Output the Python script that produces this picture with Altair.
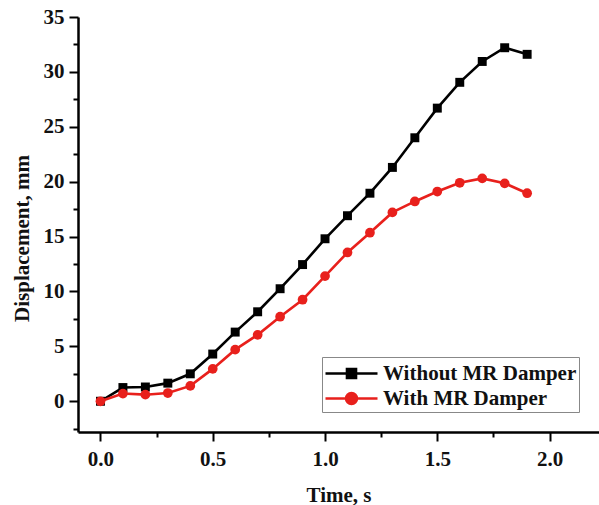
import altair as alt
import pandas as pd

times = [0.0, 0.1, 0.2, 0.3, 0.4, 0.5, 0.6, 0.7, 0.8, 0.9,
         1.0, 1.1, 1.2, 1.3, 1.4, 1.5, 1.6, 1.7, 1.8, 1.9]
without_damper = [0.0, 1.25, 1.3, 1.65, 2.5, 4.3, 6.3, 8.15, 10.25, 12.45,
                  14.8, 16.9, 18.95, 21.3, 24.0, 26.7, 29.05, 30.95, 32.2, 31.6]
with_damper = [0.0, 0.7, 0.6, 0.75, 1.4, 2.95, 4.7, 6.05, 7.7, 9.25,
               11.4, 13.55, 15.35, 17.2, 18.2, 19.1, 19.9, 20.3, 19.85, 18.95]
series_names = ["Without MR Damper", "With MR Damper"]
series_colors = ["#000000", "#e8201c"]
x_ticks = [0.0, 0.25, 0.5, 0.75, 1.0, 1.25, 1.5, 1.75, 2.0]
y_ticks = [-2.5, 0, 2.5, 5, 7.5, 10, 12.5, 15, 17.5, 20, 22.5, 25, 27.5, 30, 32.5, 35]

rows = []
for t, v in zip(times, without_damper):
    rows.append({"time": t, "disp": v, "series": series_names[0]})
for t, v in zip(times, with_damper):
    rows.append({"time": t, "disp": v, "series": series_names[1]})
df = pd.DataFrame(rows)

FONT = "Liberation Serif"

x_enc = alt.X("time:Q", scale=alt.Scale(domain=[-0.1, 2.22], nice=False, zero=False),
              axis=alt.Axis(title="Time, s", values=x_ticks, format=".1f",
                            labelExpr="abs(datum.value*2 - round(datum.value*2)) < 0.001 ? datum.label : ''",
                            tickSize={"condition": {"test": "abs(datum.value*2 - round(datum.value*2)) < 0.001", "value": 9}, "value": 5},
                            labelPadding=7, titlePadding=15))
y_enc = alt.Y("disp:Q", scale=alt.Scale(domain=[-2.8, 35], nice=False, zero=False),
              axis=alt.Axis(title="Displacement, mm", values=y_ticks,
                            labelExpr="datum.value % 5 === 0 ? datum.label : ''",
                            tickSize={"condition": {"test": "datum.value % 5 === 0", "value": 9}, "value": 5},
                            labelPadding=5, titlePadding=11, titleY=221))

base = alt.Chart(df).encode(x=x_enc, y=y_enc)

layers = []
shapes = ["square", "circle"]
sizes = [80, 95]
for name, col, shp, sz in zip(series_names, series_colors, shapes, sizes):
    sub = base.transform_filter(alt.datum.series == name)
    layers.append(sub.mark_line(color=col, strokeWidth=2.6))
    layers.append(sub.mark_point(shape=shp, filled=True, color=col, size=sz, opacity=1))

sq_path = "M-1,0L3,0M0.654,-0.346L1.346,-0.346L1.346,0.346L0.654,0.346Z"
ci_path = "M-1,0L3,0M1.42,0A0.42,0.42,0,1,1,0.58,0A0.42,0.42,0,1,1,1.42,0Z"

leg = alt.Legend(title=None, orient="none", legendX=244, legendY=340,
                 strokeColor="#888888", padding=2, labelFont=FONT, labelFontSize=21,
                 labelFontWeight="bold", labelColor="#111111", symbolSize=676,
                 symbolStrokeWidth=2.6, symbolOpacity=1, labelOffset=30, rowPadding=0,
                 labelLimit=400)
color_scale = alt.Scale(domain=series_names, range=series_colors)
legend_layer = base.mark_point(filled=True, opacity=0, size=676).encode(
    color=alt.Color("series:N", scale=color_scale, legend=leg),
    stroke=alt.Stroke("series:N", scale=color_scale, legend=leg),
    shape=alt.Shape("series:N", scale=alt.Scale(domain=series_names, range=[sq_path, ci_path]), legend=leg),
)
layers.append(legend_layer)

chart = alt.layer(*layers).properties(
    width=521, height=415,
    padding={"left": 78, "top": 17, "right": 0, "bottom": 73},
    autosize="none", background="white",
).configure_view(stroke=None).configure_axis(
    domainColor="black", domainWidth=2.5, tickColor="black", tickWidth=2,
    labelFont=FONT, labelFontSize=21, labelFontWeight="bold", labelColor="#111111",
    titleFont=FONT, titleFontSize=21, titleFontWeight="bold", titleColor="#111111",
    grid=False, labelOverlap=False, labelFlush=False,
)

chart.save("out.html", embed_options={"renderer": "svg", "actions": False})
